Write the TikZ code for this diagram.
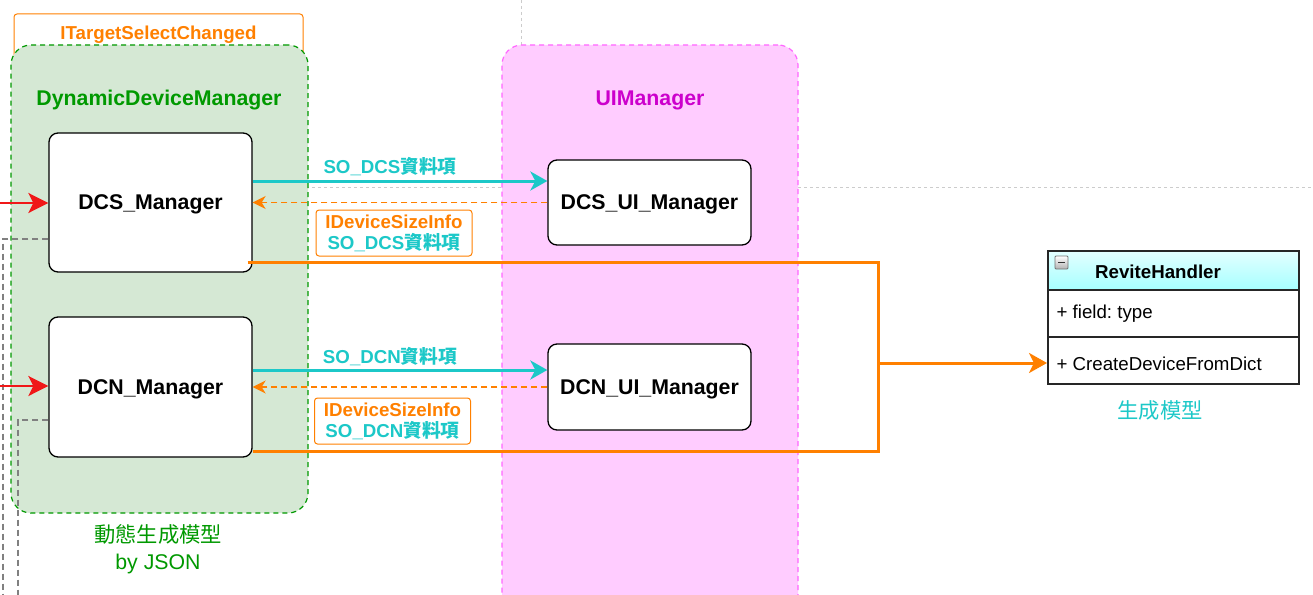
\documentclass[tikz,border=0pt]{standalone}
\usepackage{fontspec}
\setmainfont{Liberation Sans}
\newfontfamily\cjk{Noto Sans CJK TC}
\usetikzlibrary{arrows.meta,calc}
\definecolor{ddgreen}{HTML}{009900}
\definecolor{ddfill}{HTML}{D5E8D4}
\definecolor{pkfill}{HTML}{FFCCFF}
\definecolor{pkline}{HTML}{FF66FF}
\definecolor{pktext}{HTML}{CC00CC}
\definecolor{orng}{HTML}{FF8000}
\definecolor{cyn}{HTML}{1CC8C8}
\definecolor{redarr}{HTML}{F01818}
\definecolor{gridgray}{HTML}{CCCCCC}
\definecolor{dgray}{HTML}{808080}
\definecolor{hdrcyan}{HTML}{A6FFFF}
\frenchspacing
\begin{document}
\begin{tikzpicture}[x=1pt,y=-1pt,
  big/.style={font=\bfseries\fontsize{21.3}{24}\selectfont, text height=19.3pt, text depth=4.5pt},
  mid/.style={font=\bfseries\fontsize{18.7}{21}\selectfont, text height=16.9pt, text depth=4pt},
  reg/.style={font=\fontsize{18.7}{21}\selectfont, text height=16.9pt, text depth=4pt},
  mgrbox/.style={draw=black, line width=1.3pt, fill=white, rounded corners=9pt,
     minimum width=203pt, inner sep=0pt, big},
  container/.style={dashed, dash pattern=on 5pt off 4pt, line width=1.2pt, rounded corners=20pt, inner sep=0pt},
  lblbox/.style={draw=orng, line width=1pt, rounded corners=3pt, fill=white, inner sep=0pt,
     minimum width=156pt, minimum height=46pt, align=center, font=\bfseries\fontsize{18.7}{21}\selectfont},
  cyanarr/.style={draw=cyn, line width=3pt, -{Stealth[length=17pt,width=19pt,inset=5pt]}},
  backarr/.style={draw=orng, line width=1.5pt, dash pattern=on 6pt off 4pt, -{Stealth[length=13pt,width=13pt,inset=4pt]}},
  redline/.style={draw=redarr, line width=2.5pt, -{Stealth[length=20pt,width=20pt,inset=5pt]}},
  orline/.style={draw=orng, line width=3pt},
  grayguide/.style={draw=dgray, line width=1.2pt, dash pattern=on 6pt off 4pt},
  lightguide/.style={draw=gridgray, line width=1pt, dash pattern=on 3pt off 3pt}
]
\useasboundingbox (0,0) rectangle (1313,594);
\fill[white] (0,0) rectangle (1313,594);

% light grid guides behind
\coordinate (g1) at (521,0);
\coordinate (g2) at (521,60);
\coordinate (g3) at (252,187);
\coordinate (g4) at (1313,187);
\draw[lightguide] (g1) -- (g2);
\draw[lightguide] (g3) -- (g4);

% ITargetSelectChanged frame
\node[draw=orng, line width=1pt, rounded corners=3pt, minimum width=289pt, minimum height=70pt, inner sep=0pt] (itsc) at (158.5,49) {};
\node[mid, text=orng] (itsclbl) at (158.5,33) {ITargetSelectChanged};

% containers
\node[container, draw=ddgreen, fill=ddfill, minimum width=297pt, minimum height=468pt] (ddm) at (159.5,279) {};
\node[container, draw=pkline, fill=pkfill, minimum width=296pt, minimum height=580pt] (uim) at (650,335) {};
\node[big, text=ddgreen] (ddmlbl) at (159,98) {DynamicDeviceManager};
\node[big, text=pktext] (uimlbl) at (650,98) {UIManager};

% manager boxes
\node[mgrbox, minimum height=139pt] (dcs) at (150.5,202.5) {DCS\_Manager};
\node[mgrbox, minimum height=140pt] (dcn) at (150.5,387) {DCN\_Manager};
\node[mgrbox, minimum height=85pt] (dcsui) at (649.5,202.5) {DCS\_UI\_Manager};
\node[mgrbox, minimum height=86pt] (dcnui) at (649.5,387) {DCN\_UI\_Manager};

% gray dashed guides on left
\coordinate (gl1) at (3,239);
\coordinate (gl1b) at (3,600);
\coordinate (gl2) at (18,420);
\coordinate (gl2b) at (18,600);
\draw[grayguide] (dcs.west |- gl1) -- (gl1) -- (gl1b);
\draw[grayguide] (dcn.west |- gl2) -- (gl2) -- (gl2b);

% red incoming arrows
\coordinate (r1) at (0,203);
\coordinate (r2) at (0,386);
\draw[redline] (r1) -- (r1 -| dcs.west);
\draw[redline] (r2) -- (r2 -| dcn.west);

% cyan data arrows
\draw[cyanarr] ([yshift=21.5pt]dcs.east) -- ([yshift=21.5pt]dcsui.west);
\draw[cyanarr] ([yshift=17pt]dcn.east) -- ([yshift=17pt]dcnui.west);
% orange dashed back arrows
\draw[backarr] (dcsui.west) -- (dcs.east);
\draw[backarr] (dcnui.west) -- (dcn.east);

\node[mid, text=cyn] (l1) at (390,167) {SO\_DCS{\cjk 資料項}};
\node[mid, text=cyn] (l2) at (390,357) {SO\_DCN{\cjk 資料項}};

% ReviteHandler class
\coordinate (j) at (878,363);
\shade[top color=white!70!hdrcyan, bottom color=hdrcyan] (1047,250) rectangle (1298,290);
\node[draw=black!85, line width=1.5pt, minimum width=251pt, minimum height=133pt, inner sep=0pt, anchor=north west] (rh) at (1047,250) {};
\draw[black!85, line width=1.5pt] (1047,290) -- (1298,290);
\draw[black!85, line width=1.5pt] (1047,337) -- (1298,337);
\shade[top color=white, bottom color=black!30, draw=black!55, line width=0.8pt, rounded corners=1pt] (1055,256) rectangle (1068,269);
\draw[black!80, line width=1.8pt] (1058,262.5) -- (1065,262.5);
\node[mid, text=black] (rhname) at (1158,272) {ReviteHandler};
\node[reg, anchor=west] (rhf) at (1053,312) {+ field: type};
\node[reg, anchor=west] (rhm) at (1053,364) {+ CreateDeviceFromDict};
\node[font=\cjk\fontsize{21.3}{24}\selectfont, text=cyn, text height=19.3pt, text depth=4.5pt] (rhlbl) at (1160,411) {生成模型};

% orange solid connectors
\draw[orline] ([xshift=-5pt,yshift=-59.5pt]dcs.east) -| (j);
\draw[orline] ([yshift=-64pt]dcn.east) -| (j);
\draw[orline, -{Stealth[length=18pt,width=20pt,inset=5pt]}] (j) -- (j -| rh.west);

% label boxes
\node[lblbox] (b1) at (394,233) {{\color{orng}IDeviceSizeInfo}\\{\color{cyn}SO\_DCS{\cjk 資料項}}};
\node[lblbox] (b2) at (392.5,421) {{\color{orng}IDeviceSizeInfo}\\{\color{cyn}SO\_DCN{\cjk 資料項}}};

% bottom caption
\node[font=\fontsize{21.3}{27}\selectfont, text=ddgreen, align=center] (cap) at (158,549.5) {{\cjk 動態生成模型}\\by JSON};
\end{tikzpicture}
\end{document}
